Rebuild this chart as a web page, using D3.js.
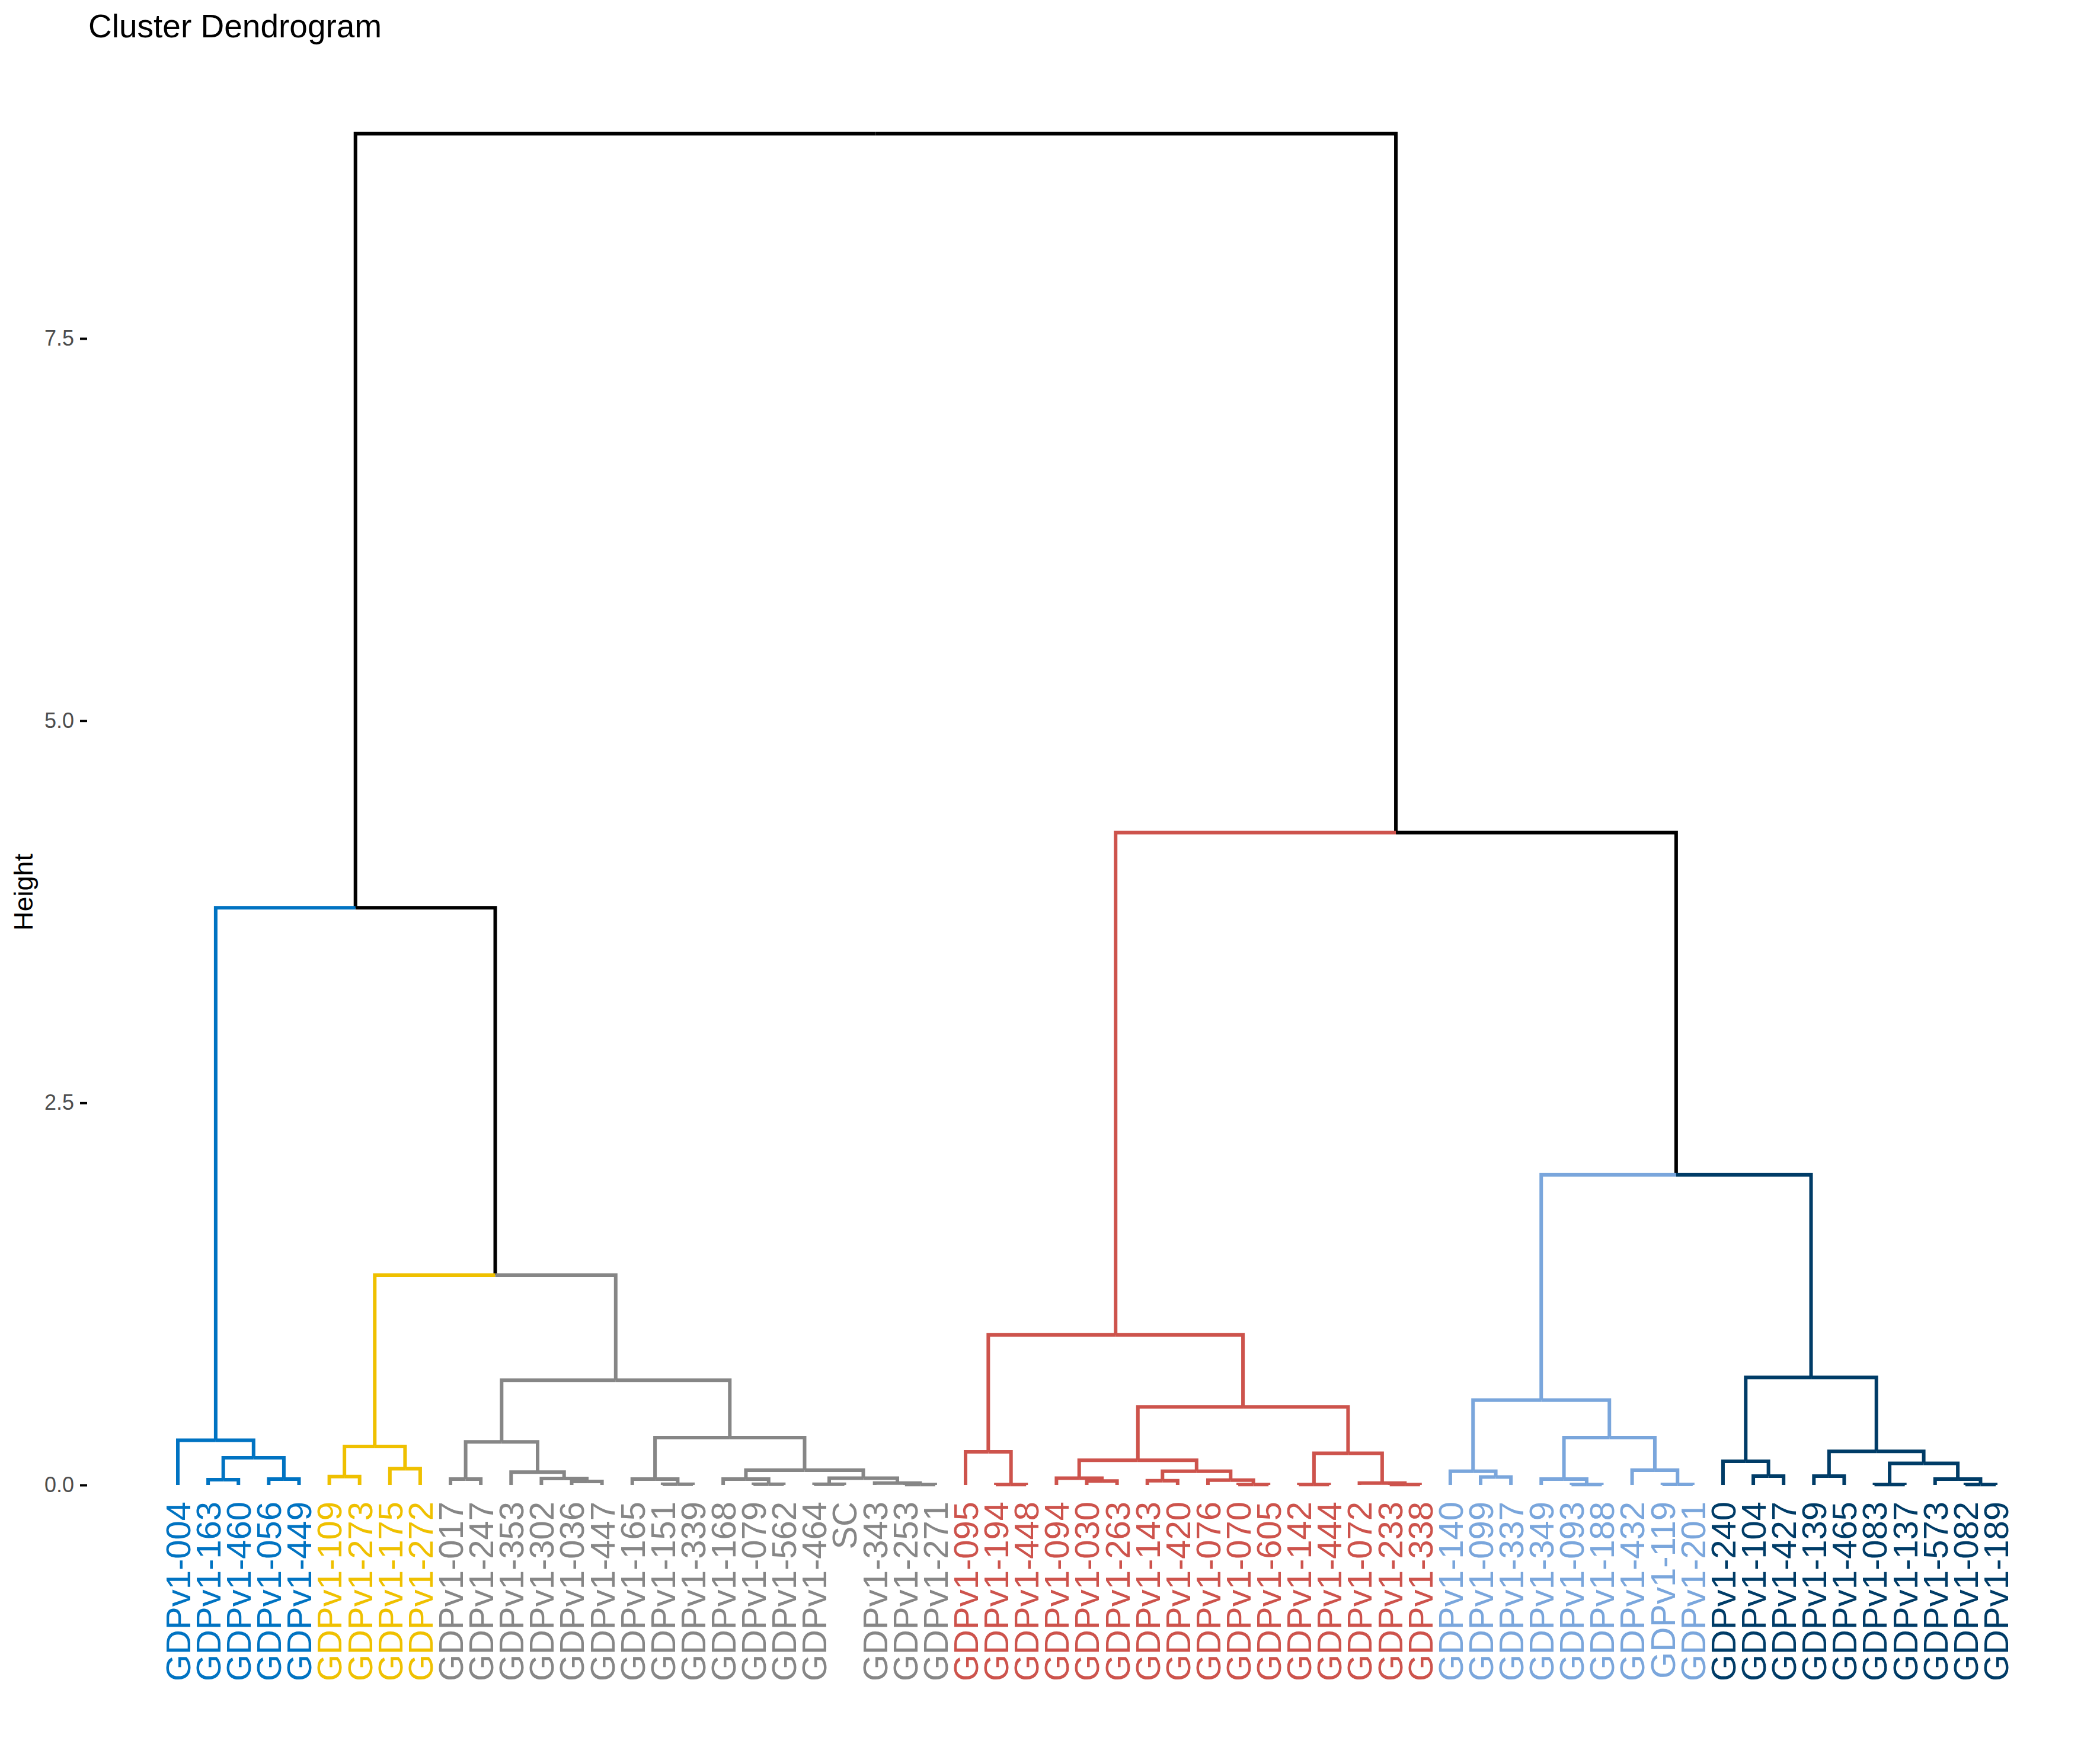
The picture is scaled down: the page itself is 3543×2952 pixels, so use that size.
<!DOCTYPE html>
<html><head><meta charset="utf-8">
<script src="https://cdn.jsdelivr.net/npm/d3@7"></script>
<style>body{margin:0;background:#fff}</style>
</head><body>
<svg id="chart" width="3543" height="2952"></svg>
<script>
// ---------- DATA ----------
const title = "Cluster Dendrogram";
const yTitle = "Height";
const yTicks = [0, 2.5, 5, 7.5];
const yTickLabels = ["0.0", "2.5", "5.0", "7.5"];

const leafLabels = [
  "GDPv1-004","GDPv1-163","GDPv1-460","GDPv1-056","GDPv1-449",
  "GDPv1-109","GDPv1-273","GDPv1-175","GDPv1-272",
  "GDPv1-017","GDPv1-247","GDPv1-353","GDPv1-302","GDPv1-036","GDPv1-447","GDPv1-165","GDPv1-151","GDPv1-339",
  "GDPv1-168","GDPv1-079","GDPv1-562","GDPv1-464","SC","GDPv1-343","GDPv1-253","GDPv1-271",
  "GDPv1-095","GDPv1-194","GDPv1-448","GDPv1-094","GDPv1-030","GDPv1-263","GDPv1-143","GDPv1-420",
  "GDPv1-076","GDPv1-070","GDPv1-605","GDPv1-142","GDPv1-444","GDPv1-072","GDPv1-233","GDPv1-338",
  "GDPv1-140","GDPv1-099","GDPv1-337","GDPv1-349","GDPv1-093","GDPv1-188","GDPv1-432","GDPv1-119","GDPv1-201",
  "GDPv1-240","GDPv1-104","GDPv1-427","GDPv1-139","GDPv1-465","GDPv1-083","GDPv1-137","GDPv1-573","GDPv1-082","GDPv1-189"
];
const leafCluster = [
  0,0,0,0,0,
  1,1,1,1,
  2,2,2,2,2,2,2,2,2,2,2,2,2,2,2,2,2,
  3,3,3,3,3,3,3,3,3,3,3,3,3,3,3,3,
  4,4,4,4,4,4,4,4,4,
  5,5,5,5,5,5,5,5,5,5
];
const clusterColors = ["#0073C2", "#EFC000", "#868686", "#CD534C", "#7AA6DC", "#003C67"];

// merges: [childA, childB, height]; strings = leaves, numbers = earlier merge index
const merges = [
  ["GDPv1-163","GDPv1-460",0.035],  // 0
  ["GDPv1-056","GDPv1-449",0.039],  // 1
  [0,1,0.178],                      // 2
  ["GDPv1-004",2,0.293],            // 3
  ["GDPv1-109","GDPv1-273",0.055],  // 4
  ["GDPv1-175","GDPv1-272",0.107],  // 5
  [4,5,0.252],                      // 6
  ["GDPv1-017","GDPv1-247",0.039],  // 7
  ["GDPv1-036","GDPv1-447",0.023],  // 8
  ["GDPv1-302",8,0.043],            // 9
  ["GDPv1-353",9,0.084],            // 10
  [7,10,0.282],                     // 11
  ["GDPv1-151","GDPv1-339",0.005],  // 12
  ["GDPv1-165",12,0.039],           // 13
  ["GDPv1-079","GDPv1-562",0.005],  // 14
  ["GDPv1-168",14,0.039],           // 15
  ["GDPv1-464","SC",0.005],         // 16
  ["GDPv1-253","GDPv1-271",0.003],  // 17
  ["GDPv1-343",17,0.013],           // 18
  [16,18,0.045],                    // 19
  [15,19,0.097],                    // 20
  [13,20,0.31],                     // 21
  [11,21,0.685],                    // 22
  [6,22,1.373],                     // 23
  [3,23,3.776],                     // 24
  ["GDPv1-194","GDPv1-448",0.003],  // 25
  ["GDPv1-095",25,0.217],           // 26
  ["GDPv1-030","GDPv1-263",0.026],  // 27
  ["GDPv1-094",27,0.045],           // 28
  ["GDPv1-143","GDPv1-420",0.028],  // 29
  ["GDPv1-070","GDPv1-605",0.003],  // 30
  ["GDPv1-076",30,0.032],           // 31
  [29,31,0.09],                     // 32
  [28,32,0.162],                    // 33
  ["GDPv1-142","GDPv1-444",0.003],  // 34
  ["GDPv1-233","GDPv1-338",0.003],  // 35
  ["GDPv1-072",35,0.013],           // 36
  [34,36,0.207],                    // 37
  [33,37,0.511],                    // 38
  [26,38,0.982],                    // 39
  ["GDPv1-099","GDPv1-337",0.052],  // 40
  ["GDPv1-140",40,0.09],            // 41
  ["GDPv1-093","GDPv1-188",0.003],  // 42
  ["GDPv1-349",42,0.039],           // 43
  ["GDPv1-119","GDPv1-201",0.004],  // 44
  ["GDPv1-432",44,0.097],           // 45
  [43,45,0.31],                     // 46
  [41,46,0.556],                    // 47
  ["GDPv1-104","GDPv1-427",0.058],  // 48
  ["GDPv1-240",48,0.155],           // 49
  ["GDPv1-139","GDPv1-465",0.058],  // 50
  ["GDPv1-083","GDPv1-137",0.003],  // 51
  ["GDPv1-082","GDPv1-189",0.003],  // 52
  ["GDPv1-573",52,0.039],           // 53
  [51,53,0.142],                    // 54
  [50,54,0.22],                     // 55
  [49,55,0.704],                    // 56
  [47,56,2.029],                    // 57
  [39,57,4.268],                    // 58
  [24,58,8.84]                      // 59
];

// ---------- DRAW ----------
const W = 3543, H = 2952;
const FONT = "'Liberation Sans', Arial, Helvetica, sans-serif";
const svg = d3.select("#chart");
svg.append("rect").attr("width", W).attr("height", H).attr("fill", "#fff");

const x = d3.scalePoint().domain(leafLabels).range([300, 3367]);
const y = d3.scaleLinear().domain([0, 7.5]).range([2505, 571]);

const leafNode = lbl => ({ x: x(lbl), h: 0, cluster: leafCluster[leafLabels.indexOf(lbl)] });
const nodes = [];
merges.forEach(([a, b, h]) => {
  const ca = typeof a === "number" ? nodes[a] : leafNode(a);
  const cb = typeof b === "number" ? nodes[b] : leafNode(b);
  const cl = (ca.cluster >= 0 && ca.cluster === cb.cluster) ? ca.cluster : -1;
  nodes.push({ x: (ca.x + cb.x) / 2, h, cluster: cl, children: [ca, cb] });
});

const links = [];
nodes.forEach(n => n.children.forEach(c => links.push({ parent: n, child: c })));
// draw black (above cluster level) links first, then colored
links.sort((a, b) => (a.child.cluster >= 0) - (b.child.cluster >= 0));

svg.append("g").selectAll("path").data(links).join("path")
  .attr("d", l => `M${l.child.x},${y(l.child.h)}V${y(l.parent.h)}H${l.parent.x}`)
  .attr("fill", "none")
  .attr("stroke", l => l.child.cluster >= 0 ? clusterColors[l.child.cluster] : "#000")
  .attr("stroke-width", 6)
  .attr("stroke-linejoin", "miter")
  .attr("stroke-linecap", "butt");

// leaf labels
svg.append("g").selectAll("text").data(leafLabels).join("text")
  .attr("transform", d => `translate(${x(d)},2533) rotate(-90)`)
  .attr("text-anchor", "end")
  .attr("dy", "0.36em")
  .attr("font-family", FONT)
  .attr("font-size", 58)
  .attr("fill", (d, i) => clusterColors[leafCluster[i]])
  .text(d => d);

// y axis
const axis = d3.axisLeft(y).tickValues(yTicks)
  .tickFormat((d, i) => yTickLabels[i]).tickSize(12).tickPadding(10);
const gA = svg.append("g").attr("transform", "translate(147,0)").call(axis);
gA.select(".domain").remove();
gA.selectAll(".tick line").attr("stroke", "#000").attr("stroke-width", 4);
gA.selectAll(".tick text").attr("font-family", FONT).attr("font-size", 36).attr("fill", "#4d4d4d");

// axis title
svg.append("text")
  .attr("transform", "translate(55,1505) rotate(-90)")
  .attr("text-anchor", "middle")
  .attr("font-family", FONT).attr("font-size", 45).attr("fill", "#000")
  .text(yTitle);

// title
svg.append("text")
  .attr("x", 149).attr("y", 63)
  .attr("font-family", FONT).attr("font-size", 55).attr("fill", "#000")
  .text(title);
</script>
</body></html>
